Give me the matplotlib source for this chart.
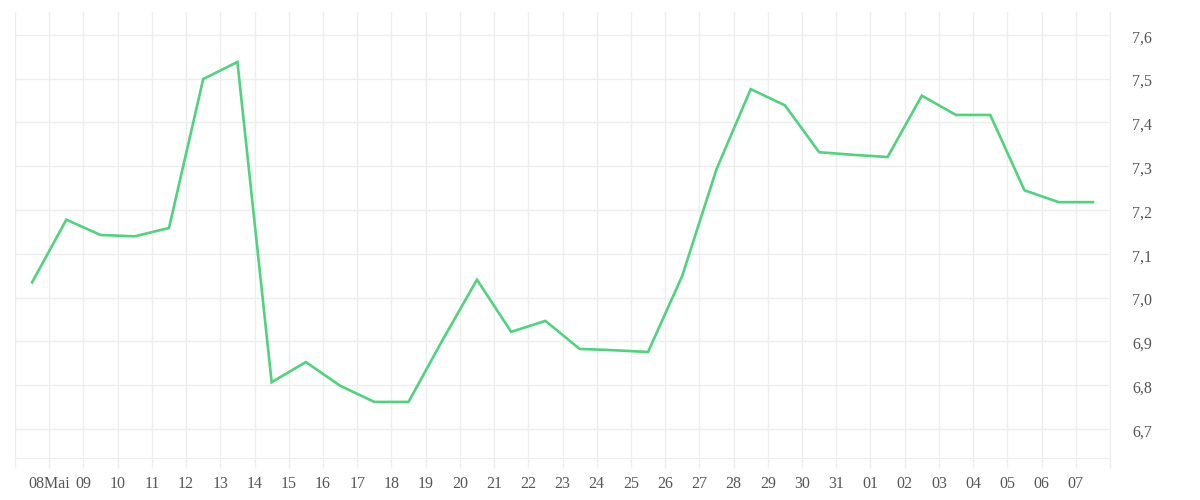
import numpy as np
import pandas as pd
import matplotlib
matplotlib.use("Agg")
import matplotlib.pyplot as plt
import matplotlib.transforms as mtransforms

# valores diarios (medidos al mediodía)
fechas = pd.date_range("2023-05-07 12:00", periods=32, freq="D")
valores = [7.035, 7.178, 7.143, 7.140, 7.159, 7.499, 7.538, 6.807, 6.853, 6.799,
           6.762, 6.762, 6.904, 7.041, 6.922, 6.947, 6.883, 6.880, 6.876, 7.050,
           7.293, 7.476, 7.439, 7.332, 7.326, 7.321, 7.461, 7.417, 7.417, 7.245,
           7.218, 7.218]

# ticks del eje x a medianoche
dias = pd.date_range("2023-05-07", "2023-06-08", freq="D")
etiquetas_x = [""] + ["08Mai"] + [d.strftime("%d") for d in dias[2:-1]] + [""]
ticks_y = [6.7, 6.8, 6.9, 7.0, 7.1, 7.2, 7.3, 7.4, 7.5, 7.6]
etiquetas_y = [f"{v:.1f}".replace(".", ",") for v in ticks_y]

plt.rcParams['font.family'] = ['Liberation Serif', 'DejaVu Serif']

fig = plt.figure(figsize=(12, 5), dpi=100)
ax = fig.add_axes([0.0125, 0.084, 0.9125, 0.892])

ax.plot(fechas, valores, color='#4fd37e', linewidth=1.9, solid_joinstyle='miter')

ax.set_xlim(dias[0], dias[-1])
ax.set_ylim(6.634, 7.652)

ax.set_xticks(dias)
ax.set_xticklabels(etiquetas_x)
ax.set_yticks(ticks_y)
ax.set_yticklabels(etiquetas_y)

ax.grid(True, color='#eeeeee', linewidth=1)
ax.set_axisbelow(True)

ax.yaxis.tick_right()
ax.tick_params(axis='y', length=0, pad=16, labelsize=11.5, labelcolor='#555555')
ax.tick_params(axis='x', length=7.2, width=1, color='#eeeeee', pad=6,
               labelsize=11.5, labelcolor='#555555')
# etiquetas del eje y un poco por debajo de la línea
desplazar = mtransforms.ScaledTranslation(0, -2.5 / 72, fig.dpi_scale_trans)
for lbl in ax.get_yticklabels():
    lbl.set_horizontalalignment('left')
    lbl.set_verticalalignment('center')
    lbl.set_transform(lbl.get_transform() + desplazar)

for lado in ['top', 'left']:
    ax.spines[lado].set_visible(False)
ax.spines['right'].set_color('#eeeeee')
ax.spines['bottom'].set_color('#eeeeee')

fig.savefig("out.png", dpi=100)
